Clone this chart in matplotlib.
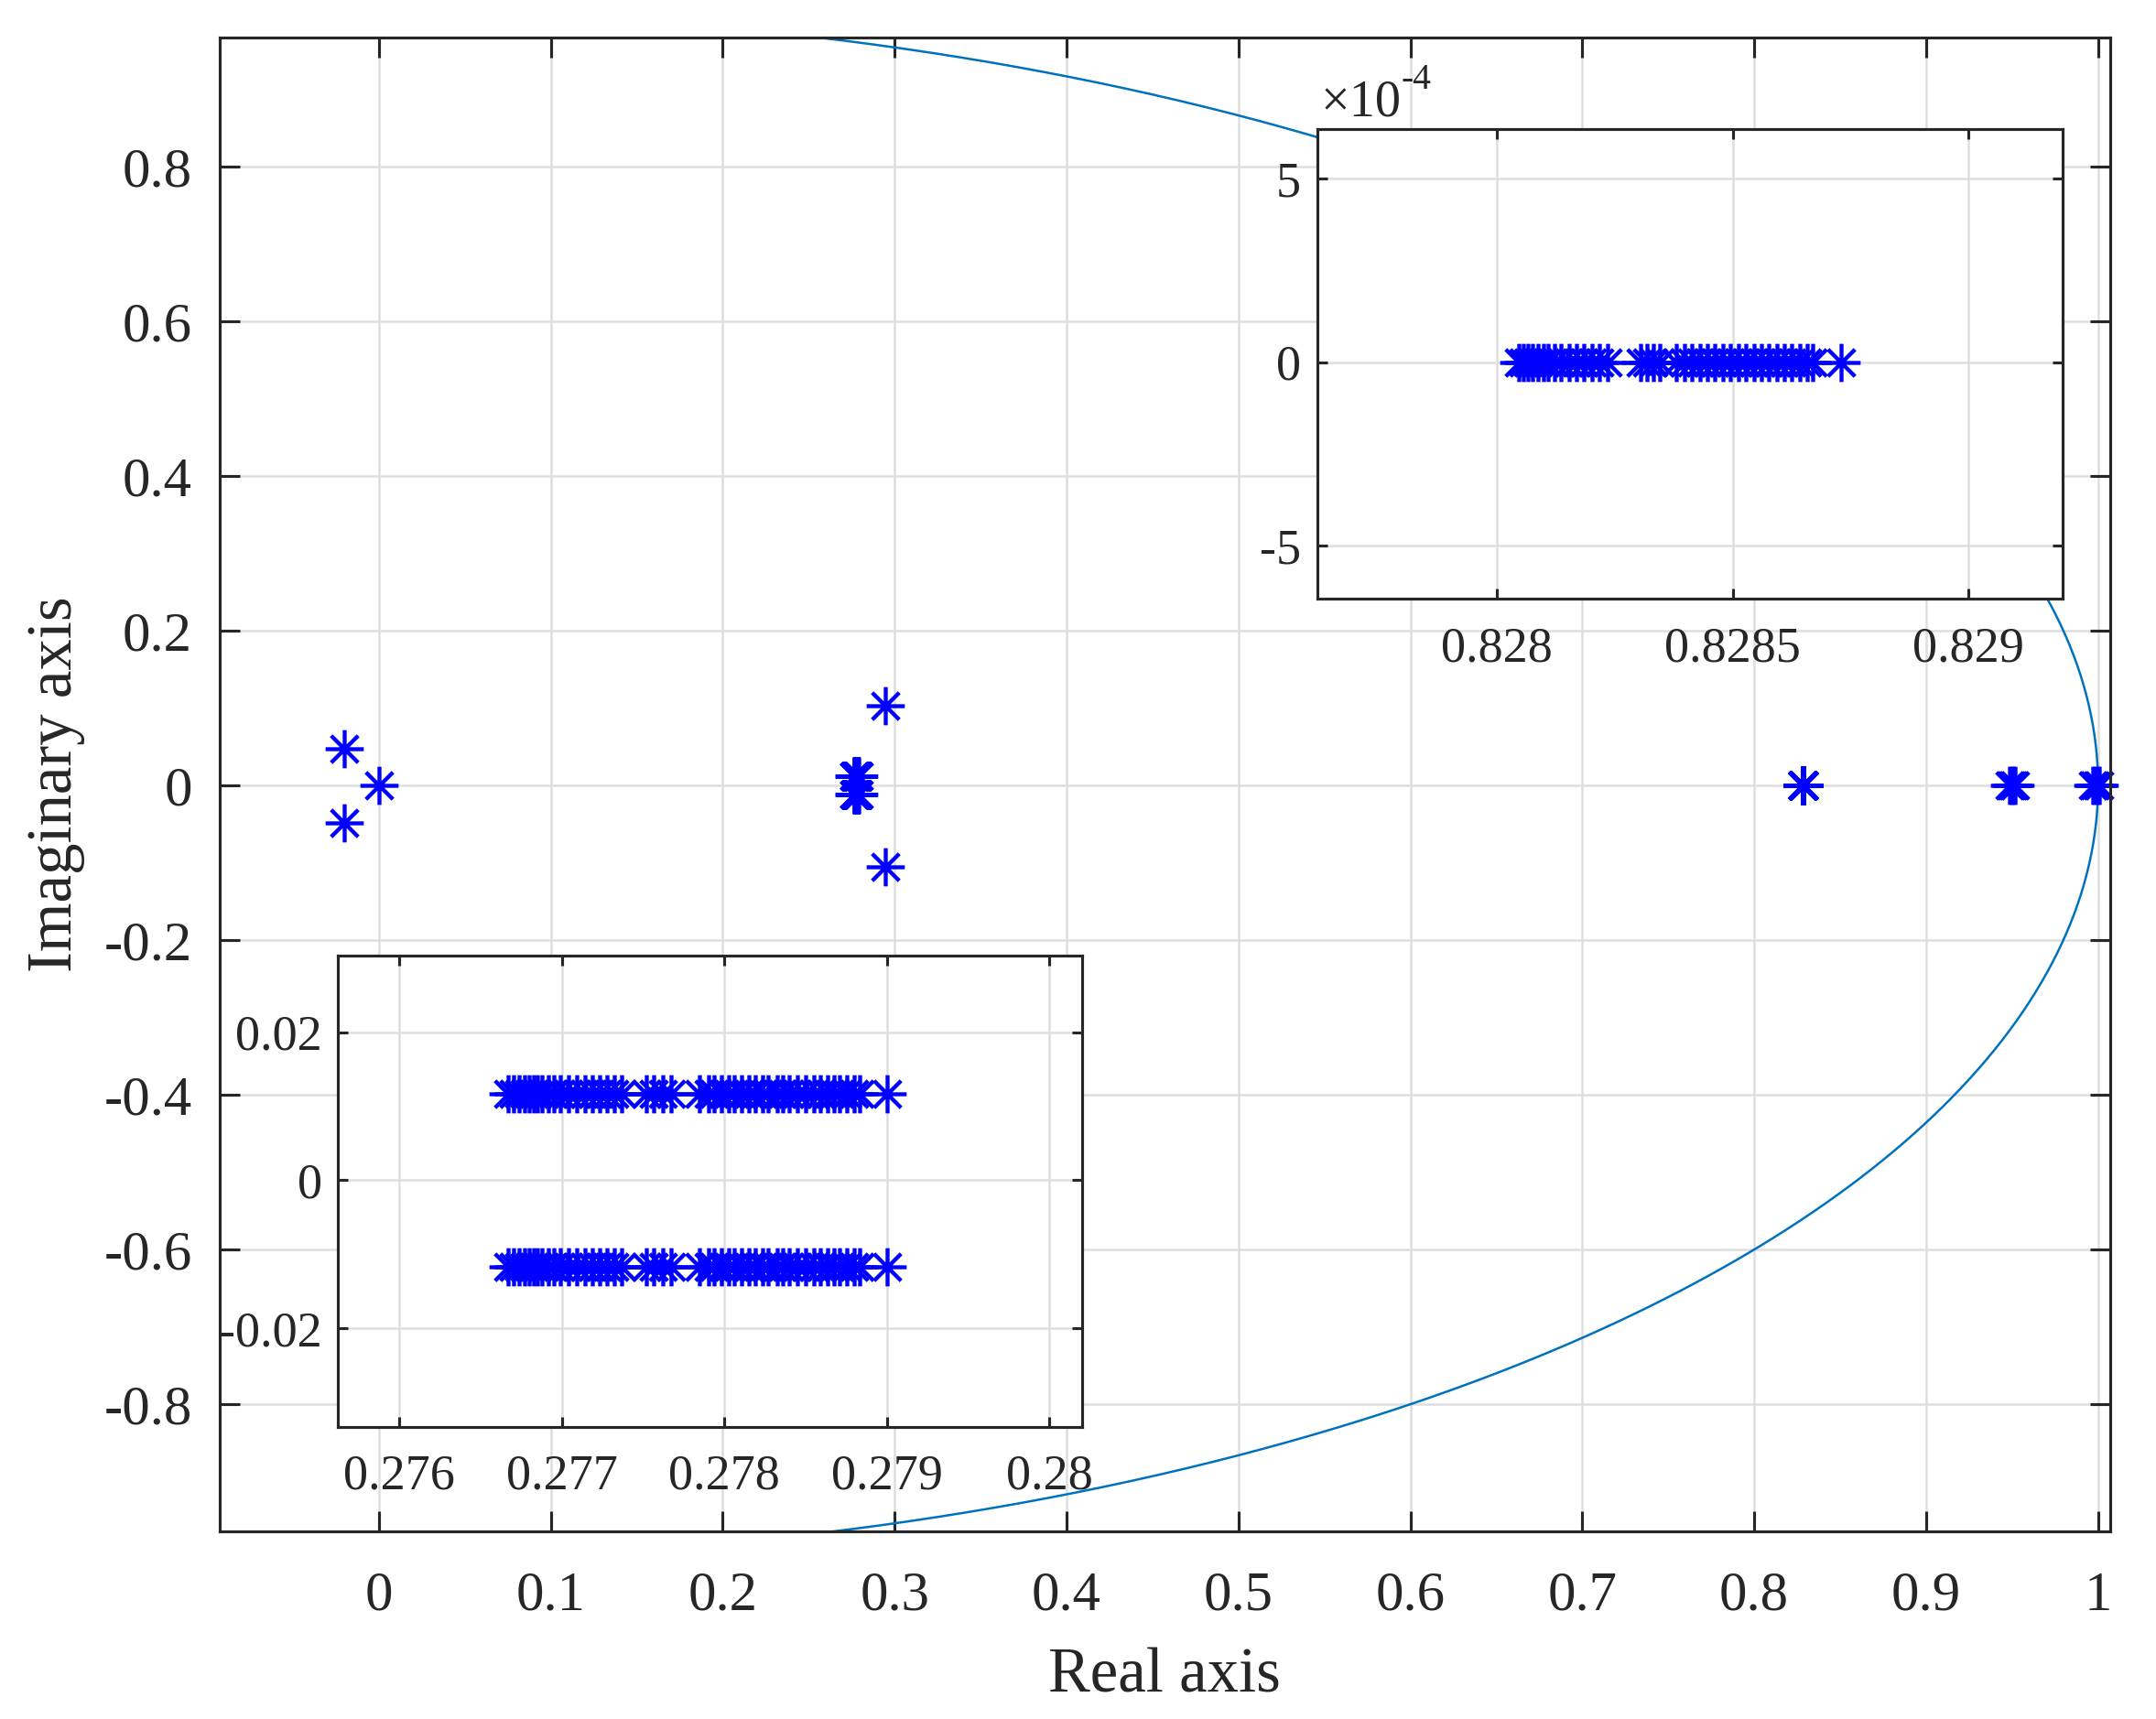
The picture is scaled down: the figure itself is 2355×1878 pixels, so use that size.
import numpy as np
import matplotlib
matplotlib.use('Agg')
import matplotlib.pyplot as plt
from matplotlib.path import Path

plt.rcParams['font.family'] = ['Liberation Serif', 'DejaVu Serif']
plt.rcParams['axes.unicode_minus'] = False

# Complex pole pair cluster near 0.278 (real parts, imag = +/- pair_im)
pair_re = [0.276669, 0.276704, 0.276739, 0.276768, 0.276796, 0.276827, 0.276852,
           0.276880, 0.276915, 0.276951, 0.276993, 0.277039, 0.277092, 0.277144,
           0.277190, 0.277232, 0.277275, 0.277320, 0.277366, 0.277521, 0.277567,
           0.277620, 0.277673, 0.277849, 0.277901, 0.277937, 0.277979, 0.278025,
           0.278060, 0.278106, 0.278148, 0.278190, 0.278236, 0.278271, 0.278324,
           0.278359, 0.278401, 0.278447, 0.278500, 0.278553, 0.278588, 0.278634,
           0.278676, 0.278711, 0.278754, 0.278799, 0.278835, 0.279004]
pair_im = 0.0117

# Real pole cluster near 0.8285
real_re = [0.828047, 0.828057, 0.828065, 0.828076, 0.828087, 0.828098, 0.828109,
           0.828122, 0.828136, 0.828153, 0.828169, 0.828185, 0.828202, 0.828218,
           0.828234, 0.828305, 0.828318, 0.828332, 0.828346, 0.828381, 0.828398,
           0.828414, 0.828430, 0.828447, 0.828463, 0.828479, 0.828496, 0.828512,
           0.828528, 0.828545, 0.828561, 0.828577, 0.828594, 0.828610, 0.828626,
           0.828643, 0.828659, 0.828670, 0.828730]

# Remaining poles
other_re = [-0.0204, -0.0204, 0.0, 0.2946, 0.2946,
            0.9485, 0.9495, 0.9505, 0.9515,
            0.9970, 0.9982, 0.9994, 1.0006]
other_im = [0.047, -0.048, 0.0, 0.103, -0.105,
            0.0, 0.0, 0.0, 0.0,
            0.0, 0.0, 0.0, 0.0]

xticks_main = [0, 0.1, 0.2, 0.3, 0.4, 0.5, 0.6, 0.7, 0.8, 0.9, 1]
xlabels_main = ['0', '0.1', '0.2', '0.3', '0.4', '0.5', '0.6', '0.7', '0.8', '0.9', '1']
yticks_main = [-0.8, -0.6, -0.4, -0.2, 0, 0.2, 0.4, 0.6, 0.8]
ylabels_main = ['-0.8', '-0.6', '-0.4', '-0.2', '0', '0.2', '0.4', '0.6', '0.8']

pair_re = np.array(pair_re)
real_re = np.array(real_re)
all_re = np.concatenate([pair_re, pair_re, real_re, other_re])
all_im = np.concatenate([np.full(len(pair_re), pair_im), np.full(len(pair_re), -pair_im),
                         np.zeros(len(real_re)), other_im])

# MATLAB-like asterisk marker ('+' and 'x' combined)
d = np.sqrt(0.5)
verts = [(-1, 0), (1, 0), (0, -1), (0, 1), (-d, -d), (d, d), (-d, d), (d, -d)]
codes = [Path.MOVETO, Path.LINETO] * 4
asterisk = Path(verts, codes)

dark = '#262626'
grid_c = '#dedede'
mk = dict(linestyle='none', marker=asterisk, markersize=10, markeredgewidth=1.05,
          color='blue', markerfacecolor='none')


def style_axes(ax, tick_len, xpad, ypad, size):
    for s in ax.spines.values():
        s.set_color(dark)
        s.set_linewidth(0.75)
    ax.grid(True, color=grid_c, linewidth=0.6)
    ax.set_axisbelow(True)
    ax.tick_params(direction='in', length=tick_len, width=0.75, top=True, right=True,
                   colors=dark, labelsize=size)
    ax.tick_params(axis='x', pad=xpad)
    ax.tick_params(axis='y', pad=ypad)


fig = plt.figure(figsize=(2355 / 300, 1878 / 300), dpi=300)

ax = fig.add_axes([0.1018, 0.1093, 0.8770, 0.8690])
theta = np.linspace(0, 2 * np.pi, 1441)
ax.plot(np.cos(theta), np.sin(theta), color='#0072BD', linewidth=0.6)
ax.plot(all_re, all_im, clip_on=False, **mk)
ax.set_xlim(-0.0927, 1.0071)
ax.set_ylim(-0.964, 0.967)
ax.set_xticks(xticks_main)
ax.set_xticklabels(xlabels_main)
ax.set_yticks(yticks_main)
ax.set_yticklabels(ylabels_main)
style_axes(ax, 5.3, 10.5, 7.2, 14.6)
ax.set_xlabel('Real axis', fontsize=16.5, color=dark, va='baseline')
ax.xaxis.set_label_coords(0.5, -0.1074)
ax.set_ylabel('Imaginary axis', fontsize=16.5, color=dark, va='baseline')
ax.yaxis.set_label_coords(-0.0782, 0.5)

# Inset: real poles near 0.8285
ax1 = fig.add_axes([0.6112, 0.6520, 0.3455, 0.2729])
ax1.plot(real_re, np.zeros(len(real_re)), **mk)
ax1.set_xlim(0.82762, 0.82920)
ax1.set_ylim(-6.43e-4, 6.35e-4)
ax1.set_xticks([0.828, 0.8285, 0.829])
ax1.set_xticklabels(['0.828', '0.8285', '0.829'])
ax1.set_yticks([-5e-4, 0, 5e-4])
ax1.set_yticklabels(['-5', '0', '5'])
style_axes(ax1, 2.7, 7.3, 4.4, 13)
t = ax1.text(0.004, 1.029, '\u00d710', transform=ax1.transAxes, fontsize=13.5,
             color=dark, ha='left', va='baseline')
ax1.annotate('-4', xy=(1.0, 0.62), xycoords=t, fontsize=9.5, color=dark,
             ha='left', va='bottom')

# Inset: complex pair cluster near 0.278
ax2 = fig.add_axes([0.1566, 0.1700, 0.3455, 0.2739])
ax2.plot(pair_re, np.full(len(pair_re), pair_im), **mk)
ax2.plot(pair_re, np.full(len(pair_re), -pair_im), **mk)
ax2.set_xlim(0.27562, 0.280204)
ax2.set_ylim(-0.0333, 0.0303)
ax2.set_xticks([0.276, 0.277, 0.278, 0.279, 0.28])
ax2.set_xticklabels(['0.276', '0.277', '0.278', '0.279', '0.28'])
ax2.set_yticks([-0.02, 0, 0.02])
ax2.set_yticklabels(['-0.02', '0', '0.02'])
style_axes(ax2, 2.7, 7.1, 4.0, 13)

fig.savefig('out.png', dpi=300, facecolor='white')
